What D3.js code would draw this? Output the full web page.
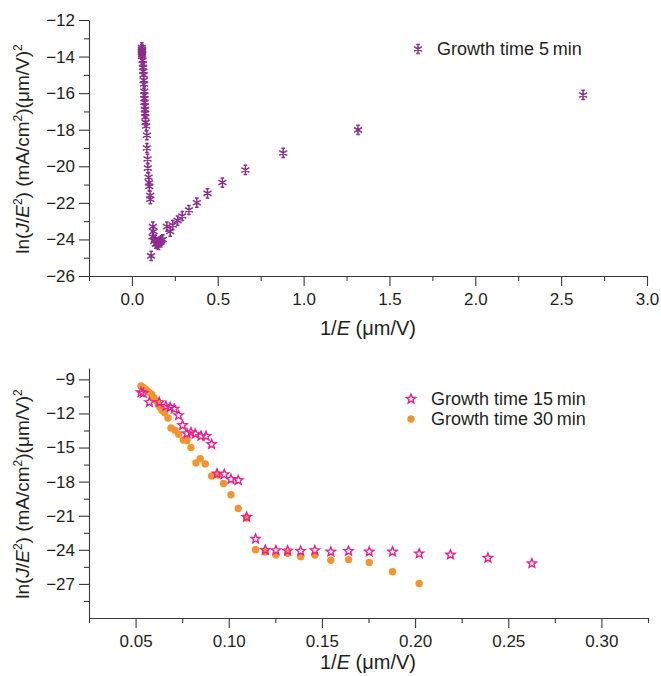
<!DOCTYPE html>
<html><head><meta charset="utf-8">
<script src="https://cdn.jsdelivr.net/npm/d3@7"></script>
<style>
html,body{margin:0;padding:0;background:#fff;}
svg text{font-family:"Liberation Sans",Arial,Helvetica,sans-serif;fill:#231f20;}
</style></head>
<body><svg id="c" width="661" height="676"></svg>
<script>
// ---- Top panel: growth time 5 min ----
const x5 = [0.058,0.058,0.058,0.058,0.059,0.059,0.060,0.062,0.064,0.065,0.066,0.068,0.069,0.070,0.072,0.073,0.073,0.074,0.075,0.076,0.077,0.078,0.080,0.083,0.087,0.087,0.091,0.093,0.097,0.100,0.101,0.106,0.107,
  0.112,0.120,0.122,0.126,0.130,0.136,0.140,0.145,0.150,0.155,0.160,0.165,0.172,0.180,0.204,0.223,0.238,0.266,0.293,0.332,0.378,0.440,0.527,0.661,0.881,1.317,2.628];
const y5 = [-13.5,-13.6,-13.7,-13.8,-13.9,-14.0,-13.65,-14.2,-14.4,-14.6,-14.8,-15.0,-15.3,-15.5,-15.9,-16.1,-16.3,-16.5,-16.7,-16.9,-17.1,-17.3,-17.6,-17.8,-18.3,-19.0,-19.6,-20.1,-20.6,-20.9,-21.1,-21.6,-21.8,
  -24.9,-23.85,-23.3,-23.57,-24.1,-24.03,-24.25,-24.21,-24.15,-24.3,-24.16,-24.1,-24.05,-24.0,-23.3,-23.57,-23.21,-22.97,-22.72,-22.39,-21.99,-21.48,-20.89,-20.2,-19.27,-18.01,-16.1];
const topXTicks = [0,0.5,1.0,1.5,2.0,2.5,3.0];
const topXMinor = [-0.25,0.25,0.75,1.25,1.75,2.25,2.75];
const topYTicks = [-12,-14,-16,-18,-20,-22,-24,-26];
const topYMinor = [-13,-15,-17,-19,-21,-23,-25];
const label5 = "Growth time 5\u2009min";

// ---- Bottom panel: growth time 15 and 30 min ----
const x15 = [0.0529,0.0541,0.0574,0.0627,0.0663,0.0686,0.0708,0.0731,0.0752,0.0776,0.0797,0.0820,0.0851,0.0878,0.0908,0.0937,0.0976,0.1012,0.1051,0.1096,0.1144,0.1196,
  0.1253,0.1316,0.1386,0.1462,0.1548,0.1643,0.1754,0.1879,0.2022,0.2190,0.2391,0.2627];
const y15 = [-10.15,-10.21,-11.02,-11.02,-11.36,-11.45,-11.60,-12.17,-13.04,-13.76,-13.67,-13.79,-13.99,-13.99,-14.71,-17.30,-17.36,-17.79,-17.88,-21.11,-23.04,-24.02,
  -24.05,-24.08,-24.11,-24.05,-24.17,-24.11,-24.17,-24.17,-24.34,-24.43,-24.72,-25.20];
const x30 = [0.0529,0.0541,0.0556,0.0570,0.0586,0.0597,0.0609,0.0622,0.0631,0.0642,0.0656,0.0674,0.0690,0.0711,0.0731,0.0756,0.0776,0.0797,0.0824,0.0847,0.0874,0.0908,0.0940,0.0972,0.1012,0.1051,0.1096,0.1144,0.1196,
  0.1253,0.1316,0.1386,0.1462,0.1548,0.1643,0.1754,0.1879,0.2022];
const y30 = [-9.58,-9.72,-9.92,-10.10,-10.30,-10.59,-10.87,-11.16,-11.45,-11.74,-11.94,-12.40,-13.27,-13.47,-13.84,-14.33,-14.39,-15.00,-16.35,-15.98,-16.44,-17.51,-17.42,-18.17,-19.15,-20.36,-21.20,-23.99,-24.20,
  -24.46,-24.31,-24.60,-24.46,-24.92,-24.86,-25.12,-25.93,-26.96];
const botXTicks = [0.05,0.10,0.15,0.20,0.25,0.30];
const botXMinor = [0.025,0.075,0.125,0.175,0.225,0.275,0.325];
const botYTicks = [-9,-12,-15,-18,-21,-24,-27];
const botYMinor = [-10.5,-13.5,-16.5,-19.5,-22.5,-25.5,-28.5];
const label15 = "Growth time 15\u2009min";
const label30 = "Growth time 30\u2009min";

const C5 = "#8c2d8e", C15 = "#e8208c", C30 = "#f29530", AX = "#3a3a3a";
const svg = d3.select("#c");
const fmtMinus = s => s.replace("-", "\u2212");

function asteriskPath(){
  return "M0,-4.6V4.6M-4,-2.4L4,2.4M-4,2.4L4,-2.4M-1.8,-4.6H1.8M-1.8,4.6H1.8";
}
function starPath(R, r){
  const pts = [];
  for(let i=0;i<10;i++){
    const a = -Math.PI/2 + i*Math.PI/5;
    const rr = i%2===0 ? R : r;
    pts.push([rr*Math.cos(a), rr*Math.sin(a)]);
  }
  return "M"+pts.map(p=>p[0].toFixed(2)+","+p[1].toFixed(2)).join("L")+"Z";
}

function yTitle(g, cx, cy){
  const t = g.append("text").attr("transform",`translate(${cx},${cy}) rotate(-90)`)
    .attr("text-anchor","middle").style("font-size","19px");
  t.append("tspan").text("ln(");
  t.append("tspan").text("J").style("font-style","italic");
  t.append("tspan").text("/");
  t.append("tspan").text("E").style("font-style","italic");
  t.append("tspan").text("2").attr("baseline-shift","super").style("font-size","12px");
  t.append("tspan").text(") (mA/cm");
  t.append("tspan").text("2").attr("baseline-shift","super").style("font-size","12px");
  t.append("tspan").text(")(\u03bcm/V)");
  t.append("tspan").text("2").attr("baseline-shift","super").style("font-size","12px");
}
function xTitle(g, cx, y){
  const t = g.append("text").attr("x",cx).attr("y",y).attr("text-anchor","middle").style("font-size","20px");
  t.append("tspan").text("1/");
  t.append("tspan").text("E").style("font-style","italic");
  t.append("tspan").text(" (\u03bcm/V)");
}

function drawAxes(x, y, xt, xm, yt, ym, xfmt, yfmt){
  const y0 = y.range()[0], x0 = x.range()[0];
  const gx = svg.append("g").attr("transform",`translate(0,${y0})`);
  gx.call(d3.axisBottom(x).tickValues(xt).tickSize(10).tickSizeOuter(0).tickPadding(7).tickFormat(xfmt));
  const gxm = svg.append("g").attr("transform",`translate(0,${y0})`);
  gxm.call(d3.axisBottom(x).tickValues(xm).tickSize(5).tickSizeOuter(0).tickFormat(""));
  gxm.select(".domain").remove();
  const gy = svg.append("g").attr("transform",`translate(${x0},0)`);
  gy.call(d3.axisLeft(y).tickValues(yt).tickSize(10).tickSizeOuter(0).tickPadding(4).tickFormat(yfmt));
  const gym = svg.append("g").attr("transform",`translate(${x0},0)`);
  gym.call(d3.axisLeft(y).tickValues(ym).tickSize(5).tickSizeOuter(0).tickFormat(""));
  gym.select(".domain").remove();
  [gx,gxm,gy,gym].forEach(g=>{
    g.selectAll("path,line").attr("stroke",AX).attr("stroke-width",1.1);
    g.selectAll("text").style("font-size","17px").attr("fill","#231f20")
      .style("font-family","'Liberation Sans',Arial,sans-serif");
  });
}

// ---------- Top chart ----------
const xT = d3.scaleLinear().domain([-0.25,3.0]).range([89,647]);
const yT = d3.scaleLinear().domain([-26,-12]).range([276,20]);
drawAxes(xT,yT,topXTicks,topXMinor,topYTicks,topYMinor,d3.format(".1f"),d=>fmtMinus(String(d)));
svg.append("g").selectAll("path").data(x5.map((v,i)=>[v,y5[i]])).join("path")
  .attr("d",asteriskPath()).attr("transform",d=>`translate(${xT(d[0])},${yT(d[1])})`)
  .attr("fill","none").attr("stroke",C5).attr("stroke-width",1.5);
yTitle(svg, 29, 149);
xTitle(svg, 368, 335);
svg.append("path").attr("d",asteriskPath()).attr("transform","translate(418,49)")
  .attr("fill","none").attr("stroke",C5).attr("stroke-width",1.5);
svg.append("text").attr("x",437).attr("y",55).style("font-size","18px").text(label5);

// ---------- Bottom chart ----------
const xB = d3.scaleLinear().domain([0.025,0.325]).range([89,648]);
const yB = d3.scaleLinear().domain([-30,-8]).range([618,368]);
drawAxes(xB,yB,botXTicks,botXMinor,botYTicks,botYMinor,d3.format(".2f"),d=>fmtMinus(String(d)));
svg.append("g").selectAll("circle").data(x30.map((v,i)=>[v,y30[i]])).join("circle")
  .attr("cx",d=>xB(d[0])).attr("cy",d=>yB(d[1])).attr("r",3.7).attr("fill",C30);
svg.append("g").selectAll("path").data(x15.map((v,i)=>[v,y15[i]])).join("path")
  .attr("d",starPath(4.8,2.1)).attr("transform",d=>`translate(${xB(d[0])},${yB(d[1])})`)
  .attr("fill","none").attr("stroke",C15).attr("stroke-width",1.4).attr("stroke-linejoin","miter");
yTitle(svg, 29, 494);
xTitle(svg, 368, 669);
svg.append("path").attr("d",starPath(4.8,2.1)).attr("transform","translate(411,399)")
  .attr("fill","none").attr("stroke",C15).attr("stroke-width",1.4);
svg.append("text").attr("x",431).attr("y",405).style("font-size","18px").text(label15);
svg.append("circle").attr("cx",411).attr("cy",419).attr("r",3.7).attr("fill",C30);
svg.append("text").attr("x",431).attr("y",425).style("font-size","18px").text(label30);
</script></body></html>
